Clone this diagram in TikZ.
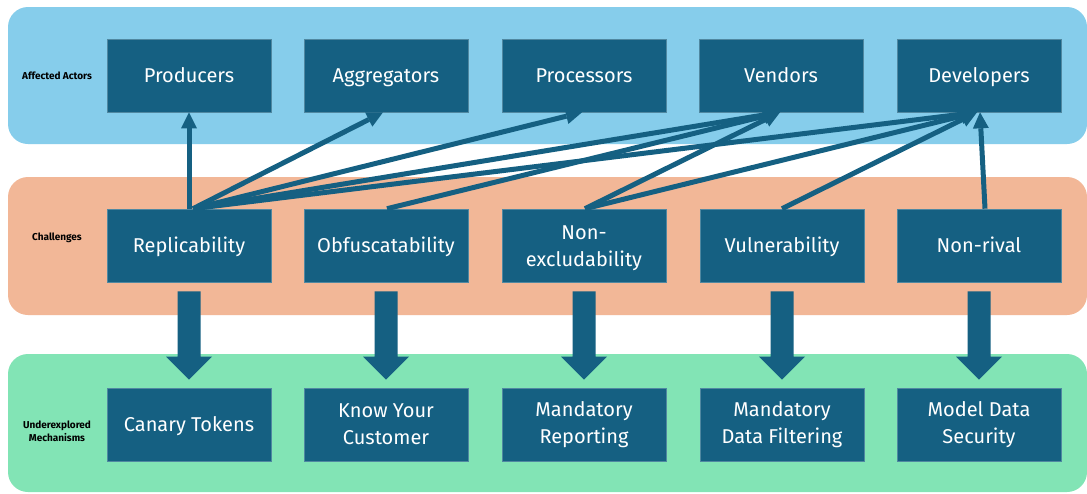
\documentclass[tikz,border=0pt]{standalone}
\usepackage{fontspec}
\setmainfont{Fira Sans}
\usetikzlibrary{arrows.meta}
\definecolor{boxc}{HTML}{156082}
\definecolor{bluebg}{HTML}{86CDEB}
\definecolor{orgbg}{HTML}{F2B797}
\definecolor{grnbg}{HTML}{82E4B5}
\newcommand\fatarrow[2]{%
  \fill[boxc] ([shift={(-11.5pt,-9pt)}]#1.south) -- ([shift={(11.5pt,-9pt)}]#1.south)
    -- ([shift={(11.5pt,31pt)}]#2.north) -- ([shift={(23pt,31pt)}]#2.north)
    -- ([yshift=8pt]#2.north) -- ([shift={(-23pt,31pt)}]#2.north)
    -- ([shift={(-11.5pt,31pt)}]#2.north) -- cycle;}
\begin{document}
\begin{tikzpicture}[x=1pt,y=-1pt,
  box/.style={fill=boxc, draw=boxc!75!white, line width=0.6pt, minimum width=164pt,
    minimum height=73pt, inner sep=0pt, text=white,
    font=\fontsize{20}{27}\selectfont, align=center},
  one/.style={box, text height=18pt, text depth=4pt},
  lbl/.style={font=\fontsize{10}{13}\selectfont\bfseries, align=center, text=black},
  band/.style={rounded corners=20pt},
  conn/.style={draw=boxc, line width=5pt,
    -{Triangle[width=16pt,length=16pt,line width=0pt]}}]
\useasboundingbox (0,0) rectangle (1087,493);
\fill[white] (0,0) rectangle (1087,493);
% bands
\fill[bluebg, band] (8,7) rectangle (1087,144);
\fill[orgbg, band] (8,177) rectangle (1087,315);
\fill[grnbg, band] (8,354) rectangle (1087,492);
% band labels
\node[lbl] (la) at (57,76) {Affected Actors};
\node[lbl] (lc) at (57,238) {Challenges};
\node[lbl] (lu) at (57,431) {Underexplored\\Mechanisms};
% top row
\node[one] (pro) at (189,75.5) {Producers};
\node[one] (agg) at (386,75.5) {Aggregators};
\node[one] (prc) at (584,75.5) {Processors};
\node[one] (ven) at (781,75.5) {Vendors};
\node[one] (dev) at (979,75.5) {Developers};
% middle row
\node[one] (rep) at (189,245.5) {Replicability};
\node[one] (obf) at (386,245.5) {Obfuscatability};
\node[box] (nex) at (584,245.5) {\rule{0pt}{20pt}Non-\\excludability};
\node[one] (vul) at (782,245.5) {Vulnerability};
\node[one] (nri) at (979,245.5) {Non-rival};
% bottom row
\node[one] (can) at (189,424.5) {Canary Tokens};
\node[box] (kyc) at (386,424.5) {Know Your\\Customer};
\node[box] (mrp) at (584,424.5) {Mandatory\\Reporting};
\node[box] (mdf) at (782,424.5) {Mandatory\\Data Filtering};
\node[box] (mds) at (979,424.5) {Model Data\\Security};
% connectors
\draw[conn] (rep.north) -- (pro.south);
\draw[conn] ([xshift=4pt]rep.north) -- ([xshift=-3pt]agg.south);
\draw[conn] ([xshift=4pt]rep.north) -- ([xshift=-2pt]prc.south);
\draw[conn] ([xshift=4pt]rep.north) -- ([xshift=-1pt]ven.south);
\draw[conn] ([xshift=4pt]rep.north) -- ([xshift=-2pt]dev.south);
\draw[conn] ([xshift=1pt]obf.north) -- ([xshift=-1pt]ven.south);
\draw[conn] ([xshift=1pt]nex.north) -- ([xshift=-1pt]ven.south);
\draw[conn] ([xshift=1pt]nex.north) -- ([xshift=-2pt]dev.south);
\draw[conn] (vul.north) -- ([xshift=-2pt]dev.south);
\draw[conn] ([xshift=6pt]nri.north) -- ([xshift=1pt]dev.south);
% block arrows
\fatarrow{rep}{can}
\fatarrow{obf}{kyc}
\fatarrow{nex}{mrp}
\fatarrow{vul}{mdf}
\fatarrow{nri}{mds}
\end{tikzpicture}
\end{document}
